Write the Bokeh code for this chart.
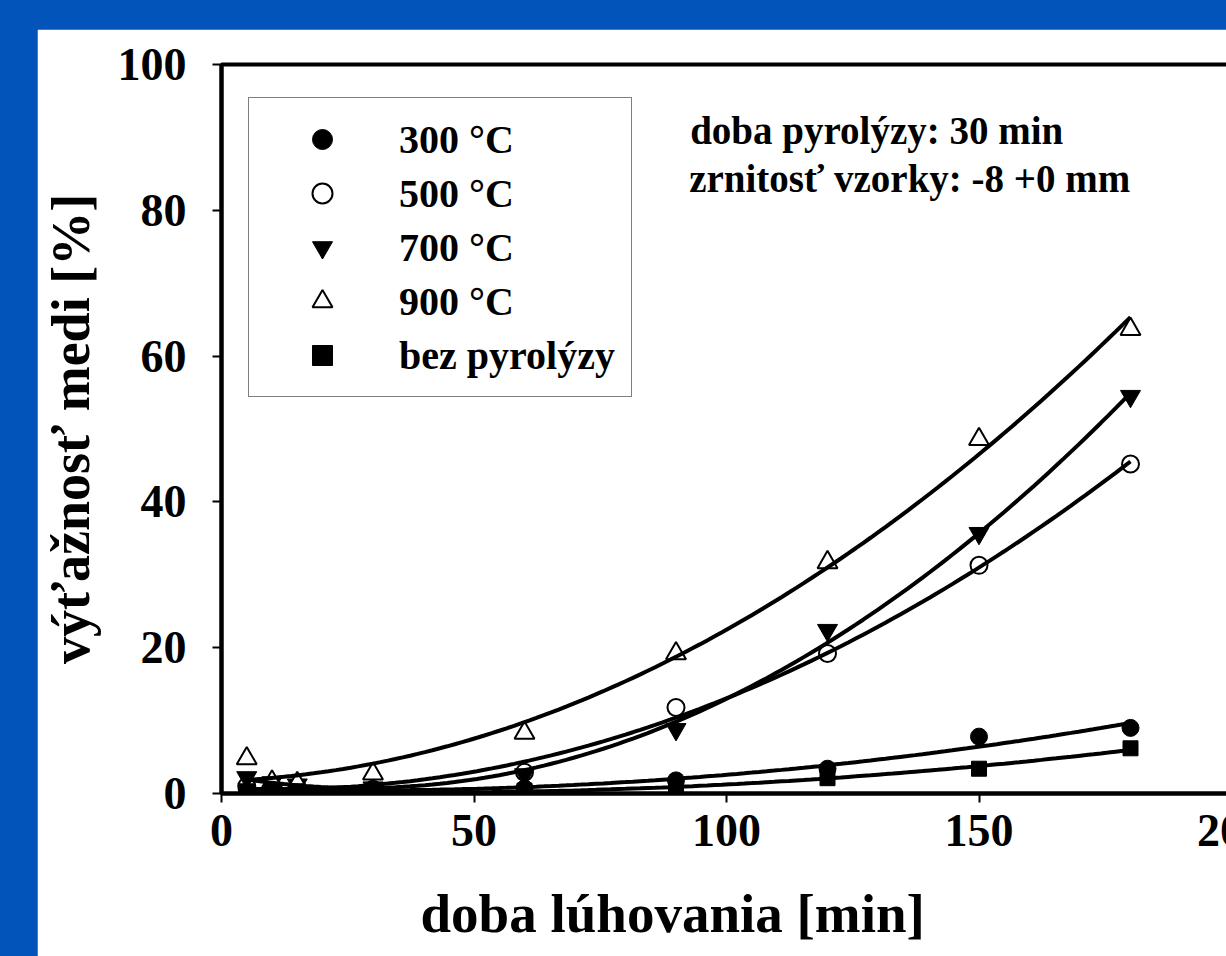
import numpy as np
from bokeh.plotting import figure
from bokeh.models import Range1d, FixedTicker, Label, Legend, LegendItem, Title
from bokeh.embed import file_html
from bokeh.resources import INLINE

# ---- data ----
leach_time = [5, 10, 15, 30, 60, 90, 120, 150, 180]
yield_300 = [0.6, 0.5, 0.6, 0.4, 0.7, 1.8, 3.4, 7.8, 9.0]
yield_500 = [1.0, 0.9, 0.8, 0.6, 2.9, 11.8, 19.2, 31.3, 45.2]
yield_700 = [2.2, 1.5, 1.2, 0.8, 2.6, 8.8, 22.4, 35.7, 54.5]
yield_900 = [4.8, 1.6, 1.4, 2.7, 8.3, 19.2, 31.7, 48.6, 63.7]
yield_bez = [0.3, 0.3, 0.3, 0.3, 0.4, 0.9, 2.1, 3.4, 6.2]
legend_labels = ["300 °C", "500 °C", "700 °C", "900 °C", "bez pyrolýzy"]
x_ticks = [0, 50, 100, 150, 200]
y_ticks = [0, 20, 40, 60, 80, 100]
x_title = "doba lúhovania [min]"
y_title = "výťažnosť medi [%]"
note_1 = "doba pyrolýzy: 30 min"
note_2 = "zrnitosť vzorky: -8 +0 mm"

FONT = "Liberation Serif"
BLUE = "#0254BA"

# the original slide is cropped on the right and bottom: the canvas runs past the window edge
p = figure(width=1260, height=989,
           x_range=Range1d(0, 200), y_range=Range1d(0, 100),
           output_backend="svg", toolbar_location=None,
           min_border_left=184, min_border_right=66,
           min_border_top=35, min_border_bottom=225)
p.xgrid.visible = False
p.ygrid.visible = False
p.outline_line_color = "black"
p.outline_line_width = 4
p.background_fill_color = "white"
p.border_fill_color = "white"

for ax in (p.xaxis[0], p.yaxis[0]):
    ax.axis_line_width = 4
    ax.axis_line_color = "black"
    ax.major_tick_line_width = 2
    ax.major_tick_line_color = "black"
    ax.major_tick_out = 9
    ax.major_tick_in = 0
    ax.minor_tick_out = 0
    ax.minor_tick_in = 0
    ax.major_label_text_font = FONT
    ax.major_label_text_font_style = "bold"
    ax.major_label_text_font_size = "46px"
    ax.major_label_text_color = "black"

p.xaxis.ticker = FixedTicker(ticks=x_ticks)
p.yaxis.ticker = FixedTicker(ticks=y_ticks)
p.xaxis.major_label_standoff = 12
p.yaxis.major_label_standoff = 26
p.yaxis.axis_label = y_title
p.yaxis.axis_label_text_font = FONT
p.yaxis.axis_label_text_font_style = "bold"
p.yaxis.axis_label_text_font_size = "54px"
p.yaxis.axis_label_text_color = "black"
p.yaxis.axis_label_standoff = 14

series = [
    (yield_300, dict(marker="circle", size=17, fill_color="black", line_color="black", line_width=1)),
    (yield_500, dict(marker="circle", size=17, fill_color="white", line_color="black", line_width=2)),
    (yield_700, dict(marker="inverted_triangle", size=20, fill_color="black", line_color="black", line_width=1)),
    (yield_900, dict(marker="triangle", size=20, fill_color="white", line_color="black", line_width=2)),
    (yield_bez, dict(marker="square", size=15, fill_color="black", line_color="black", line_width=1)),
]

renderers = []
for ys, style in series:
    renderers.append(p.scatter(leach_time, ys, **style))

# fitted trend curves (quadratic regression of each series)
xs_fit = np.linspace(min(leach_time), max(leach_time), 120)
for ys, _ in series:
    coef = np.polyfit(leach_time, ys, 2)
    p.line(xs_fit, np.polyval(coef, xs_fit), line_color="black", line_width=4)

legend = Legend(items=[LegendItem(label=lab, renderers=[r]) for lab, r in zip(legend_labels, renderers)],
                location=(27, 396))
legend.border_line_color = "black"
legend.border_line_width = 1.5
legend.background_fill_color = "white"
legend.background_fill_alpha = 1
legend.label_text_font = FONT
legend.label_text_font_style = "bold"
legend.label_text_font_size = "40px"
legend.label_text_color = "black"
legend.glyph_width = 114
legend.glyph_height = 50
legend.label_height = 50
legend.label_standoff = 20
legend.padding = 16
legend.spacing = 4
legend.margin = 0
p.add_layout(legend)

p.add_layout(Label(x=92.8, y=90.9, text=note_1, text_align="left", text_baseline="alphabetic",
                   text_font=FONT, text_font_style="bold", text_font_size="39px", text_color="black"))
p.add_layout(Label(x=92.6, y=84.3, text=note_2, text_align="left", text_baseline="alphabetic",
                   text_font=FONT, text_font_style="bold", text_font_size="39px", text_color="black"))

p.add_layout(Title(text=x_title, align="left", offset=199, standoff=64,
                   text_font=FONT, text_font_style="bold", text_font_size="55px",
                   text_color="black"), "below")

html = file_html(p, INLINE)
style = ("<style>html{background:%s;overflow:hidden}"
         "body{margin:29px 0 0 37px;background:%s;overflow:hidden}</style>" % (BLUE, BLUE))
html = html.replace("</head>", style + "</head>", 1)
open("out.html", "w").write(html)
